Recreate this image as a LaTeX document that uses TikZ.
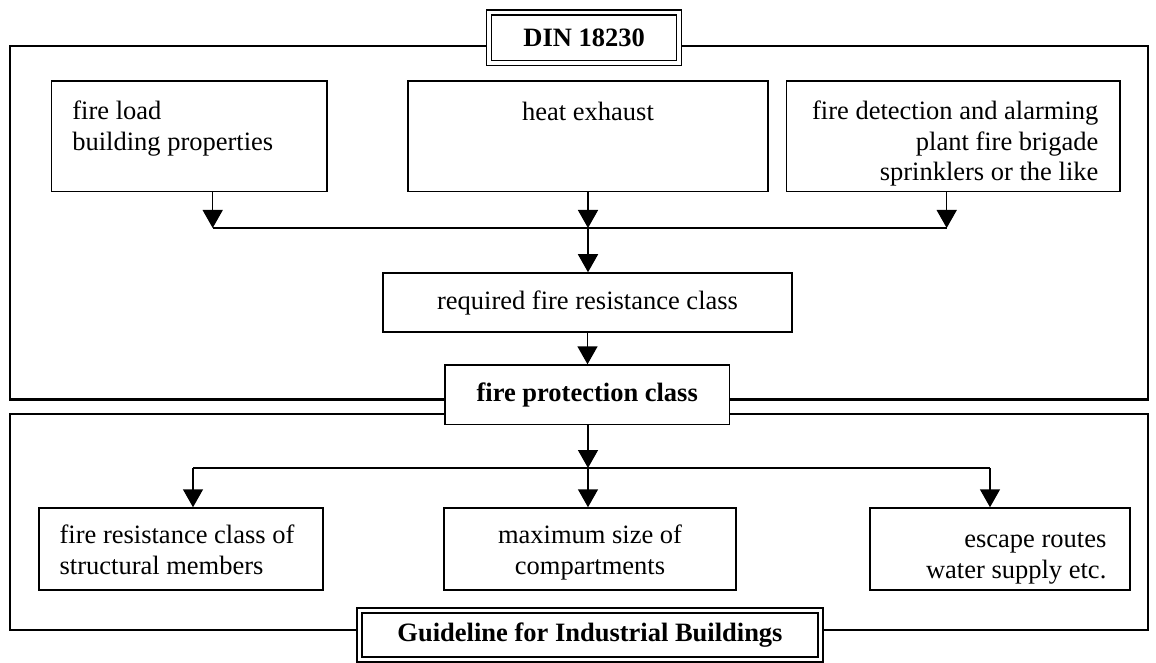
\documentclass[tikz,border=0pt]{standalone}
\usepackage{fontspec}
\setmainfont{Liberation Serif}
\usetikzlibrary{arrows.meta,positioning}

\tikzset{
  frame/.style={line width=1.1pt},
  box/.style={draw, line width=0.75pt, fill=white, inner sep=0pt},
  dblbox/.style={box, double, double distance=1.75pt, font=\bfseries},
  txt/.style={inner sep=0pt},
  arr/.style={line width=0.75pt, -{Triangle[length=9pt,width=10pt]}},
  bus/.style={line width=0.75pt}
}

\begin{document}
\begin{tikzpicture}[x=0.5pt, y=-0.5pt]

\fontsize{13.25}{15.4}\selectfont
\useasboundingbox (0,0) rectangle (1156,663); %% page size

%% the two frames
\draw[frame] (10,46) rectangle (1148,399.5);
\draw[frame] (10,414) rectangle (1148,630);

%% upper part
\node[box, minimum width=137.65pt, minimum height=55.25pt] (load) at (189.35,136.25) {};
\node[box, minimum width=180pt, minimum height=55.25pt] (heat) at (588,136.25) {};
\node[box, minimum width=166.65pt, minimum height=55.25pt] (detect) at (953.35,136.25) {};

\node[txt, align=left, below right=10pt and 10.5pt of load.north west] (loadtxt)
{fire load\\building properties};
\node[txt, below=10.5pt of heat.north] (heattxt) {heat exhaust};
\node[txt, align=right, below left=10pt and 11pt of detect.north east] (detecttxt)
{fire detection and alarming\\plant fire brigade\\sprinklers or the like};

\coordinate (b1) at (212.7,228);
\coordinate (b2) at (588,228);
\coordinate (b3) at (946.7,228);

\node[box, minimum width=204.5pt, minimum height=29.5pt] (required) at (587.5,302.5)
{required fire resistance class};

\draw[bus] (b1) -- (b3);
\draw[arr] (load.south -| b1) -- (b1);
\draw[arr] (heat.south) -- (b2);
\draw[arr] (detect.south -| b3) -- (b3);
\draw[arr] (b2) -- (b2 |- required.north);

%% titles on the frames
\node[dblbox, minimum width=95pt, minimum height=25.35pt] (din) at (584.2,37.9) {DIN 18230};
\node[box, font=\bfseries, minimum width=142.15pt, minimum height=29.65pt] (prot) at (587.2,394.7)
{fire protection class};
\node[dblbox, minimum width=230.5pt, minimum height=24.35pt] (guide) at (590,634.9)
{Guideline for Industrial Buildings};

\draw[arr] (required.south) -- (required.south |- prot.north);

%% lower part
\node[box, minimum width=142pt, minimum height=41pt] (members) at (181,549) {};
\node[box, minimum width=146pt, minimum height=41pt] (compart) at (590,549) {};
\node[box, minimum width=130pt, minimum height=41pt] (escape) at (1000,549) {};

\node[txt, align=left, below right=8.5pt and 10.5pt of members.north west] (memberstxt)
{fire resistance class of\\structural members};
\node[txt, align=center, below=8.5pt of compart.north] (comparttxt)
{maximum size of\\compartments};
\node[txt, align=right, below left=12.5pt and 12pt of escape.north east] (escapetxt)
{escape routes\\water supply etc.};

\coordinate (c1) at (193,468);
\coordinate (c2) at (588,468);
\coordinate (c3) at (990,468);

\draw[bus] (c1) -- (c3);
\draw[arr] (prot.south -| c2) -- (c2);
\draw[arr] (c1) -- (c1 |- members.north);
\draw[arr] (c2) -- (c2 |- compart.north);
\draw[arr] (c3) -- (c3 |- escape.north);

\end{tikzpicture}
\end{document}
